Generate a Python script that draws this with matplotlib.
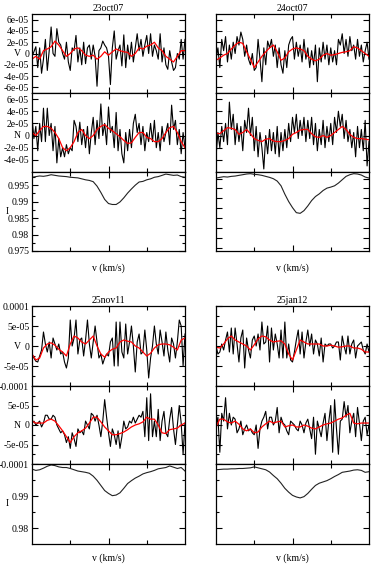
import numpy as np
import matplotlib
matplotlib.use('Agg')
import matplotlib.pyplot as plt
from matplotlib.ticker import FixedLocator, FuncFormatter, NullFormatter
import matplotlib.transforms as mtransforms

plt.rcParams['font.family'] = ['Liberation Serif', 'DejaVu Serif']

VMIN, VMAX = -100, 100
SCALE = 1e-5  # V and N values below are in units of 1e-5

dates = ['23oct07', '24oct07', '25nov11', '25jan12']

# ---------------- 23oct07 ----------------
v_black_23oct07 = [-0.5, 0.3, 1.2, -2.5, 1.0, -3.5, -1.0, 2.5, -3.0, 0.5, 4.7, 0.0, -0.5, 4.4, 2.0, 1.5,
                   0.0, -1.0, 2.0, -1.5, -3.0, 1.0, 0.5, 3.2, -1.5, 1.0, -2.0, 2.0, -1.8, 1.0, 1.5, -1.0,
                   1.5, -0.5, -5.8, 0.5, 1.0, 2.2, 1.5, 1.0, -0.5, -5.5, 1.0, 4.0, -1.0, 0.5, 1.5, -2.2,
                   3.3, -2.5, 1.5, -1.0, 2.0, -1.5, 1.0, 3.5, 0.5, 2.5, -0.5, 1.5, 3.2, 0.0, 3.5, -0.5,
                   1.5, 0.5, -1.0, 3.5, -1.5, 1.0, -2.0, -2.8, 0.5, -1.5, -3.0, -2.5, 0.0, -1.0, 2.5, -1.0, 2.5]
v_red_23oct07 = [-1.0, -0.5, -1.0, 0.5, 0.8, 1.2, 2.2, 1.5, 0.5, -0.5, 0.0, 0.8, 1.0, 0.5, -0.3, -0.5,
                 -0.3, -1.0, -0.5, 0.3, -0.3, 0.3, 0.8, 0.5, 0.3, 0.2, -0.5, 0.0, 1.0, 0.8, 1.3, 1.5,
                 2.0, 1.0, 0.5, -0.5, -1.0, -1.5, -0.5, 0.5, 0.5]
n_black_23oct07 = [3.0, -0.5, 1.5, -2.5, 2.0, -1.0, 4.5, -1.0, 4.5, 0.0, 2.0, -2.5, 1.5, -4.5, -0.5, -3.5,
                   -2.0, -3.5, -1.5, -3.0, -2.0, -2.5, 2.5, 1.5, -1.0, 2.2, -1.5, 1.0, -2.0, 1.5, -3.0, 0.5,
                   3.0, -1.5, 2.5, -0.5, 5.2, 0.0, 2.0, -1.5, 4.7, 0.5, 1.5, -2.0, 3.8, -2.5, 1.0, -3.0,
                   -4.5, 0.5, -2.5, 1.0, -2.0, 2.0, 3.5, 0.5, 2.0, -1.5, 1.5, -2.5, 0.5, -1.0, 2.0, -1.0,
                   2.5, -2.0, 0.5, -2.5, 1.5, -1.0, 0.5, 2.0, -1.5, 5.0, 1.0, 2.5, -1.5, 1.0, -3.0, 0.5, -2.0]
n_red_23oct07 = [0.5, 0.0, 0.8, 1.5, 1.5, 1.2, 0.5, -0.5, -2.0, -2.5, -2.0, -1.0, 0.5, 1.0, 0.0, -0.5,
                 0.0, 1.0, 1.5, 1.8, 1.2, 0.8, 0.3, -0.2, -0.8, -1.3, -1.2, -0.3, 0.5, 0.5, -0.3, -0.5,
                 -1.0, -1.0, -0.5, 0.5, 1.3, 1.5, 0.5, -1.0, -2.0]
i_23oct07 = [0.99740, 0.99760, 0.99779, 0.99769, 0.99788, 0.99817, 0.99798, 0.99779, 0.99769, 0.99760,
             0.99740, 0.99731, 0.99721, 0.99692, 0.99663, 0.99644, 0.99606, 0.99471, 0.99279, 0.99067,
             0.98942, 0.98913, 0.98913, 0.98990, 0.99115, 0.99260, 0.99385, 0.99500, 0.99596, 0.99615,
             0.99663, 0.99692, 0.99740, 0.99760, 0.99798, 0.99837, 0.99817, 0.99798, 0.99808, 0.99760,
             0.99740]

# ---------------- 24oct07 ----------------
v_black_24oct07 = [-1.0, 1.0, -2.5, 2.5, 0.5, 3.0, -1.5, 1.5, -1.0, 2.0, 0.0, 3.0, 1.5, 3.8, 2.5, -0.5,
                   1.5, -1.0, -2.0, 0.0, -3.0, -2.5, 2.5, -1.0, -5.0, 1.0, -2.0, 2.2, 1.0, 2.5, -0.5, 1.5,
                   -2.5, 1.0, -2.0, -3.5, 0.5, -2.5, 1.5, 2.5, 3.0, -1.0, 2.0, -0.5, 1.5, -1.5, 2.5, -1.0,
                   1.0, -2.5, 0.5, -2.0, 1.5, -5.0, 1.0, -1.5, 2.0, -1.0, 1.5, -2.0, 1.0, -1.5, 0.5, -2.0,
                   2.5, 1.5, 3.5, 0.0, 2.5, -0.5, 3.0, 0.5, 1.5, -1.0, 2.5, -0.5, 1.5, -1.5, 0.5, 2.0, -1.0]
v_red_24oct07 = [-1.2, -0.8, -0.3, 0.0, 0.8, 1.5, 2.0, 1.8, 0.3, -1.0, -2.5, -1.5, -0.5, 0.3, 1.0, 1.5,
                 0.3, -1.2, -0.8, 0.3, 0.8, 1.0, 0.8, 0.5, -0.5, -1.0, -1.3, -1.0, -0.3, 0.0, -0.3, -0.2,
                 0.0, 0.2, 0.3, 0.5, 1.2, 1.0, 0.5, 0.0, -0.5]
n_black_24oct07 = [-3.5, 0.5, -2.0, 1.5, -1.0, 2.0, -1.5, 5.5, 1.0, 3.5, -1.5, 2.0, -1.0, 1.5, -2.5, 2.5,
                   0.5, 4.5, 0.0, 3.0, -2.5, 1.5, -3.5, 0.5, -2.0, -5.5, 0.0, -3.0, 1.0, -2.5, 0.5, -3.0,
                   1.5, -3.5, 0.5, -2.5, 1.0, -2.0, 2.0, -1.0, 3.0, 0.5, 3.5, -0.5, 2.5, 0.0, 3.0, -1.0,
                   2.5, -0.5, 3.0, -1.5, 2.0, -2.5, 1.0, -1.5, 2.5, -2.0, 1.5, -1.0, 2.0, -1.5, 3.0, 0.5,
                   4.0, 1.5, 3.5, -0.5, 2.5, -1.0, 1.0, -2.0, 0.5, -3.5, 1.5, -2.0, 1.0, -2.5, 2.5, -5.0, -1.0]
n_red_24oct07 = [0.4, 0.3, 0.8, 1.3, 1.2, 1.0, 0.2, 0.5, 1.0, 0.3, -0.5, -0.8, -1.0, -0.6, -0.5, -0.9,
                 -1.0, -1.0, -0.8, -0.5, 0.2, 0.5, 0.9, 1.0, 1.0, 0.3, -0.2, -0.3, 0.0, -0.3, 0.0, 0.5,
                 1.0, 1.5, 1.0, 0.2, -0.3, -0.5, -0.5, -0.6, -0.7]
i_24oct07 = [0.99716, 0.99737, 0.99757, 0.99747, 0.99767, 0.99777, 0.99798, 0.99818, 0.99839, 0.99849,
             0.99829, 0.99818, 0.99798, 0.99767, 0.99737, 0.99696, 0.99624, 0.99481, 0.99226, 0.99002,
             0.98818, 0.98665, 0.98644, 0.98726, 0.98869, 0.99032, 0.99155, 0.99236, 0.99338, 0.99410,
             0.99441, 0.99481, 0.99563, 0.99665, 0.99767, 0.99818, 0.99849, 0.99839, 0.99808, 0.99747,
             0.99716]

# ---------------- 25nov11 ----------------
v_black_25nov11 = [-2.0, -3.0, -3.8, -4.0, -2.5, -1.0, 3.5, 0.5, -1.5, 1.0, -3.0, 2.0, 0.5, -1.0, 0.5, -2.0,
                   -1.5, -4.0, -5.5, -3.0, 6.5, 0.0, 2.0, 6.5, -2.0, 1.5, 2.0, -2.5, 1.5, 6.5, 0.5, -3.0,
                   1.0, 5.0, 1.0, -3.0, -2.0, -4.5, -3.0, -2.0, -2.5, 1.0, 2.0, -5.0, 6.0, -5.0, 6.0, -1.5,
                   -3.0, 5.5, -2.0, 1.0, 5.0, 0.0, -6.5, 1.0, 3.0, -2.0, -1.5, 4.0, -1.0, -8.0, -3.0, 0.0,
                   5.0, 0.5, -2.0, 4.0, 1.0, -2.5, 3.5, -1.0, -4.0, 2.0, 0.5, -3.0, 1.0, 6.5, 5.0, -5.0, 3.0]
v_red_25nov11 = [-2.0, -3.5, -3.0, -0.5, 0.5, 0.8, 0.2, -0.8, -1.5, -2.5, 0.5, 2.5, 2.0, 1.0, 0.5, 1.5,
                 2.5, 0.0, -2.0, -2.8, -1.5, -0.8, -0.5, 1.0, 1.5, 1.2, 1.0, 0.0, -0.5, -1.5, -2.5, -1.8,
                 -0.5, 0.3, 0.5, 0.5, 0.3, -0.3, -1.0, 1.5, 2.0]
n_black_25nov11 = [0.5, 1.0, 0.0, 0.5, 1.0, -0.5, 0.5, 2.5, 2.5, 1.5, 1.5, 2.5, 2.0, 0.0, -1.0, -2.0,
                   -1.5, -2.5, -4.5, -3.0, -6.0, -2.0, -3.5, -5.5, -1.0, -2.0, -1.5, -2.5, 1.0, 0.0, -1.0, 3.0,
                   2.5, 1.0, 2.5, 0.0, -3.0, 1.0, 6.5, 2.0, -2.0, -5.5, -1.0, -2.5, -5.0, -1.5, -6.0, -3.0,
                   1.0, -1.0, -0.5, 1.0, 0.5, 2.0, 0.5, 1.5, 2.5, 2.0, 3.5, -3.0, 7.0, -4.0, 8.0, -3.0,
                   1.0, -3.0, 4.0, -4.0, 1.0, 3.5, -2.0, -3.0, 1.5, 4.5, -1.0, -5.0, 0.0, 5.0, 0.5, -7.5, 0.5]
n_red_25nov11 = [1.0, 0.5, 0.5, 0.5, 1.2, 1.5, 1.0, -0.2, -1.5, -3.0, -4.5, -3.0, -2.0, -1.5, -0.8, 0.5,
                 2.0, 2.0, 0.8, -0.5, -1.5, -2.5, -2.5, -2.2, -1.8, -1.2, -0.5, 0.0, 0.3, 0.8, 2.0, 1.5,
                 1.5, 0.0, -2.0, -2.2, -1.2, -1.0, -0.8, 0.0, 0.5]
i_25nov11 = [0.9984, 0.9980, 0.9982, 0.9987, 0.9993, 0.9997, 0.9995, 0.9991, 0.9989, 0.9989,
             0.9986, 0.9982, 0.9978, 0.9976, 0.9974, 0.9971, 0.9962, 0.9949, 0.9933, 0.9917,
             0.9908, 0.9901, 0.9903, 0.9910, 0.9924, 0.9939, 0.9948, 0.9956, 0.9962, 0.9969,
             0.9973, 0.9976, 0.9980, 0.9985, 0.9987, 0.9989, 0.9994, 0.9990, 0.9986, 0.9989,
             0.9978]

# ---------------- 25jan12 ----------------
v_black_25jan12 = [0.0, -2.0, -1.5, 0.5, -1.0, 1.5, 3.5, -1.5, 4.5, -2.0, 4.5, 0.5, -4.0, 2.0, 4.0, -5.5,
                   2.0, -1.0, -3.0, 1.5, 2.5, 0.0, 3.0, -1.0, 6.0, 0.5, 1.0, 5.0, -4.0, 4.5, -1.0, 3.0,
                   0.5, -3.0, 4.0, -3.0, 6.0, -3.0, 0.5, -3.5, -4.0, -1.5, 1.5, 4.0, -2.0, 3.5, -3.0, 1.0,
                   4.0, 0.0, 3.0, -2.0, 1.5, 0.5, -2.5, 2.0, -4.0, 0.5, 0.0, 0.5, 0.5, -0.5, 0.0, 1.0,
                   1.0, -3.5, 2.5, 0.0, -2.0, 2.5, -2.0, 0.5, 1.5, -3.0, 0.0, 0.5, 1.0, -1.0, -2.0, 0.5, -1.5]
v_red_25jan12 = [-0.3, -0.5, 0.5, 1.8, 2.5, 1.5, 1.0, 0.5, 0.0, -1.0, 0.3, 1.8, 2.5, 2.3, 1.5, 1.0,
                 1.2, 1.3, 0.5, -2.0, -3.5, -1.0, 1.5, 1.0, 0.5, 0.5, 0.5, 0.5, 0.0, 0.0, 0.2, 0.0,
                 -0.3, -0.2, 0.0, 0.0, -0.5, -0.5, -0.8, -1.5, -1.5]
n_black_25jan12 = [-0.5, 2.0, -7.0, 3.0, 1.0, 7.0, -1.0, 3.0, 0.0, 2.0, 1.5, -2.0, -1.0, 1.0, -2.5, -1.0,
                   0.0, -1.5, -1.0, -2.0, -2.5, 0.0, -6.0, -1.0, 1.0, 2.0, 3.5, -1.0, 2.0, 2.0, 0.0, 1.0,
                   4.5, -2.0, 2.0, 0.5, 0.0, -1.5, -2.5, 1.0, 0.5, 0.0, -1.0, -1.5, 1.0, 0.0, -2.0, 0.5,
                   1.5, -1.0, -3.5, 2.0, -7.5, 1.0, -1.0, -3.0, 0.5, 3.0, -4.0, 1.0, 5.0, -7.0, 6.5, -1.0,
                   -7.5, 1.0, 1.5, 6.0, 2.0, 5.0, -2.0, 1.0, 3.0, -3.0, 4.5, 0.5, -4.0, 1.0, 2.0, -2.5, 0.0]
n_red_25jan12 = [-0.5, 1.5, 1.5, 0.8, 0.5, 1.0, 0.2, -1.0, -1.5, -1.0, -2.0, -1.8, -0.5, 0.3, 1.0, 0.5,
                 0.8, 1.0, -0.5, -0.2, 0.0, -0.5, -0.5, 0.0, -0.3, -0.8, -1.0, -0.5, 0.0, 0.3, 0.5, 1.0,
                 1.5, 1.8, 2.5, 3.0, 0.5, 0.3, 0.5, 0.5, 0.5]
i_25jan12 = [0.9982, 0.9983, 0.9984, 0.9984, 0.9985, 0.9985, 0.9986, 0.9986, 0.9987, 0.9988,
             0.9991, 0.9988, 0.9985, 0.9982, 0.9975, 0.9964, 0.9954, 0.9940, 0.9924, 0.9912,
             0.9902, 0.9897, 0.9894, 0.9898, 0.9908, 0.9921, 0.9933, 0.9940, 0.9944, 0.9948,
             0.9954, 0.9961, 0.9967, 0.9974, 0.9976, 0.9978, 0.9981, 0.9982, 0.9980, 0.9974,
             0.9976]

V_BLACK = [v_black_23oct07, v_black_24oct07, v_black_25nov11, v_black_25jan12]
V_RED = [v_red_23oct07, v_red_24oct07, v_red_25nov11, v_red_25jan12]
N_BLACK = [n_black_23oct07, n_black_24oct07, n_black_25nov11, n_black_25jan12]
N_RED = [n_red_23oct07, n_red_24oct07, n_red_25nov11, n_red_25jan12]
I_PROF = [i_23oct07, i_24oct07, i_25nov11, i_25jan12]

# ---------------- layout ----------------
W, H = 374, 564
fig = plt.figure(figsize=(W / 100, H / 100), dpi=100)

col_x = [32, 216]
col_w = 153
# rows (top, bottom) in pixels for each group
groups = [
    [(14, 93), (93, 172), (172, 251)],
    [(306, 386), (386, 464), (464, 544)],
]
FS = 7


def px_axes(x0, top, bottom):
    return fig.add_axes([x0 / W, 1 - bottom / H, col_w / W, (bottom - top) / H])


def gfmt(v, pos):
    if abs(v) < 1e-15:
        return '0'
    return '%g' % round(v, 12)


def style(ax, show_labels):
    ax.set_xlim(VMIN, VMAX)
    ax.xaxis.set_major_locator(FixedLocator([0]))
    ax.xaxis.set_minor_locator(FixedLocator([-50, 50]))
    ax.xaxis.set_major_formatter(NullFormatter())
    ax.tick_params(axis='both', which='both', direction='in', top=True, right=True,
                   width=0.8, labelsize=FS, pad=2)
    ax.tick_params(axis='both', which='major', length=4)
    ax.tick_params(axis='both', which='minor', length=2.5)
    ax.tick_params(axis='x', which='minor', length=3)
    for s in ax.spines.values():
        s.set_linewidth(0.9)
    if show_labels:
        ax.yaxis.set_major_formatter(FuncFormatter(gfmt))
    else:
        ax.yaxis.set_major_formatter(NullFormatter())
    ax.yaxis.set_minor_formatter(NullFormatter())


for k, date in enumerate(dates):
    g = k // 2
    c = k % 2
    x0 = col_x[c]
    rows = groups[g]
    left = (c == 0)

    # V panel
    axv = px_axes(x0, *rows[0])
    b = np.array(V_BLACK[k]) * SCALE
    r = np.array(V_RED[k]) * SCALE
    axv.plot(np.linspace(VMIN, VMAX, len(b)), b, color='black', lw=0.8)
    axv.plot(np.linspace(VMIN, VMAX, len(r)), r, color='#ff0000', lw=0.9)
    style(axv, left)
    axv.set_title(date, fontsize=FS, pad=2)

    # N panel
    axn = px_axes(x0, *rows[1])
    b = np.array(N_BLACK[k]) * SCALE
    r = np.array(N_RED[k]) * SCALE
    axn.plot(np.linspace(VMIN, VMAX, len(b)), b, color='black', lw=0.8)
    axn.plot(np.linspace(VMIN, VMAX, len(r)), r, color='#ff0000', lw=0.9)
    style(axn, left)

    # I panel
    axi = px_axes(x0, *rows[2])
    ip = np.array(I_PROF[k])
    axi.plot(np.linspace(VMIN, VMAX, len(ip)), ip, color='#222222', lw=0.8)
    style(axi, left)
    axi.set_xlabel('v (km/s)', fontsize=FS, labelpad=(7 if g == 0 else 4.5))

    if g == 0:
        axv.set_ylim(-7e-5, 7e-5)
        axv.yaxis.set_major_locator(FixedLocator([-6e-5, -4e-5, -2e-5, 0, 2e-5, 4e-5, 6e-5]))
        axn.set_ylim(-6e-5, 7e-5)
        axn.yaxis.set_major_locator(FixedLocator([-4e-5, -2e-5, 0, 2e-5, 4e-5, 6e-5]))
        axi.set_ylim(0.975, 0.999)
        if left:
            axi.yaxis.set_major_locator(FixedLocator([0.975, 0.98, 0.985, 0.99, 0.995]))
            axi.yaxis.set_minor_locator(FixedLocator([0.9775, 0.9825, 0.9875, 0.9925, 0.9975]))
        else:
            axi.yaxis.set_major_locator(FixedLocator(list(np.arange(0.976, 0.9985, 0.003))))
    else:
        axv.set_ylim(-1e-4, 1e-4)
        axv.yaxis.set_major_locator(FixedLocator([-1e-4, -5e-5, 0, 5e-5, 1e-4]))
        axv.yaxis.set_minor_locator(FixedLocator([-7.5e-5, -2.5e-5, 2.5e-5, 7.5e-5]))
        axn.set_ylim(-1e-4, 1e-4)
        axn.yaxis.set_major_locator(FixedLocator([-1e-4, -5e-5, 0, 5e-5]))
        axn.yaxis.set_minor_locator(FixedLocator([-7.5e-5, -2.5e-5, 2.5e-5, 7.5e-5]))
        axi.set_ylim(0.975, 1.0)
        axi.yaxis.set_major_locator(FixedLocator([0.98, 0.99]))
        axi.yaxis.set_minor_locator(FixedLocator([0.985, 0.995]))

    if left:
        tv = mtransforms.blended_transform_factory(axv.transAxes, axv.transData)
        axv.text(-0.098, 0, 'V', transform=tv, ha='center', va='center', fontsize=FS)
        tn = mtransforms.blended_transform_factory(axn.transAxes, axn.transData)
        axn.text(-0.098, 0, 'N', transform=tn, ha='center', va='center', fontsize=FS)
        axi.text(-0.163, 0.5, 'I', transform=axi.transAxes, ha='center', va='center', fontsize=FS)

fig.savefig('out.png', dpi=100)
